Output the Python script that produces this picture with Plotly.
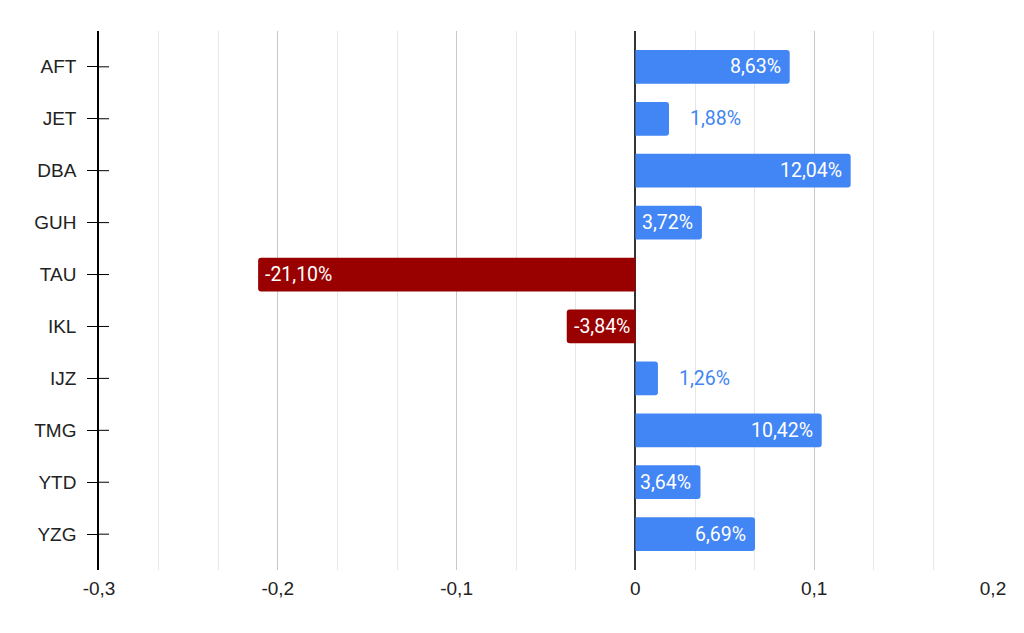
import plotly.graph_objects as go

categories = ["AFT", "JET", "DBA", "GUH", "TAU", "IKL", "IJZ", "TMG", "YTD", "YZG"]
values = [0.0863, 0.0188, 0.1204, 0.0372, -0.2110, -0.0384, 0.0126, 0.1042, 0.0364, 0.0669]
labels = ["8,63%", "1,88%", "12,04%", "3,72%", "-21,10%", "-3,84%", "1,26%", "10,42%", "3,64%", "6,69%"]
x_tickvals = [-0.3, -0.2, -0.1, 0, 0.1, 0.2]
x_ticktext = ["-0,3", "-0,2", "-0,1", "0", "0,1", "0,2"]

BLUE = "#4285F4"
RED = "#990000"
colors = [BLUE if v >= 0 else RED for v in values]

fig = go.Figure()
fig.add_trace(go.Bar(
    y=categories, x=values, orientation="h",
    marker=dict(color=colors, line=dict(width=0), cornerradius=3),
    width=0.65, hoverinfo="skip",
))

annotations = []
for c, v, t in zip(categories, values, labels):
    inside = abs(v) >= 0.03
    if inside:
        if v >= 0:
            annotations.append(dict(x=v, y=c, text=t, xanchor="right", xshift=-7,
                                    showarrow=False, font=dict(color="white", size=19.5, family="Roboto")))
        else:
            annotations.append(dict(x=v, y=c, text=t, xanchor="left", xshift=5,
                                    showarrow=False, font=dict(color="white", size=19.5, family="Roboto")))
    else:
        annotations.append(dict(x=v, y=c, text=t, xanchor="left", xshift=19,
                                showarrow=False, font=dict(color=BLUE, size=19.5, family="Roboto")))

PLOT_W = 1016 - 91 - 31
shapes = []
for c in categories:
    shapes.append(dict(type="line", xref="paper", x0=0, x1=10 / PLOT_W, yref="y", y0=c, y1=c,
                       line=dict(color="black", width=1)))

fig.update_layout(
    width=1016, height=625,
    margin=dict(l=91, r=31, t=23, b=63),
    plot_bgcolor="white", paper_bgcolor="white",
    showlegend=False,
    font=dict(family="Liberation Sans, Arial, sans-serif", size=19, color="#222222"),
    annotations=annotations,
    shapes=shapes,
    xaxis=dict(
        range=[-0.3, 0.2],
        tickmode="array", tickvals=x_tickvals, ticktext=x_ticktext,
        showgrid=True, gridcolor="#c8c8c8", gridwidth=1,
        minor=dict(tickmode="linear", tick0=0, dtick=0.1 / 3, showgrid=True,
                   gridcolor="#e6e6e6", gridwidth=1),
        zeroline=True, zerolinecolor="#333333", zerolinewidth=1.5,
        showline=False, ticks="", ticklabelstandoff=5,
        tickfont=dict(size=19, color="#222222"),
    ),
    yaxis=dict(
        categoryorder="array", categoryarray=categories,
        range=[len(categories) - 1 + 0.69, -0.69],
        showgrid=False, zeroline=False,
        showline=True, linecolor="black", linewidth=1.5,
        ticks="outside", ticklen=10, tickcolor="black", tickwidth=1,
        ticklabelstandoff=7,
        tickfont=dict(size=19, color="#222222"),
    ),
)

fig.write_html("out.html")
